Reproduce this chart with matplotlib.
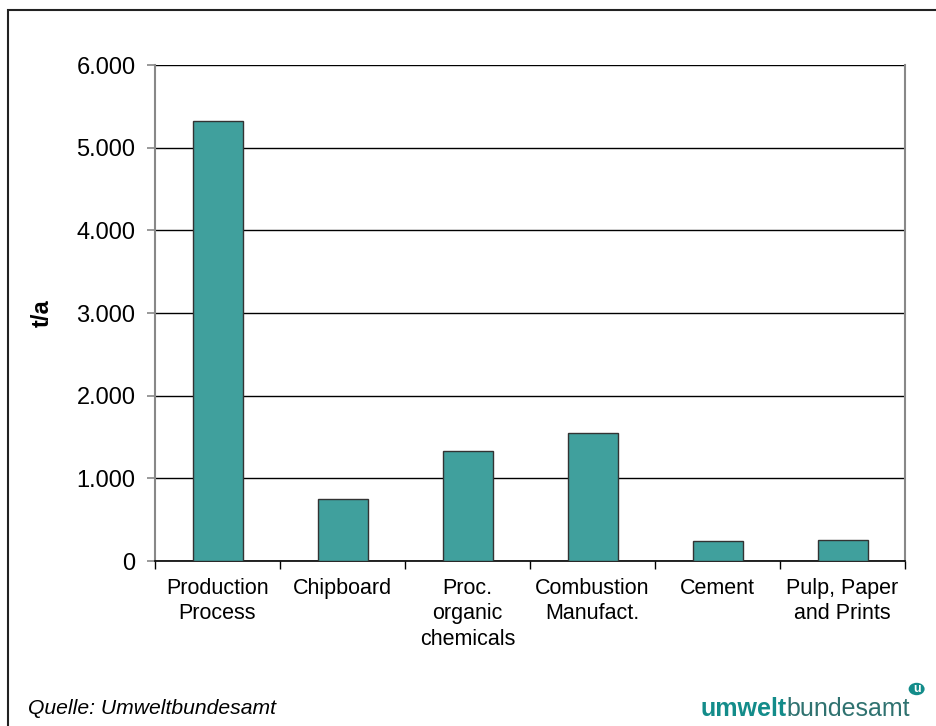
import matplotlib.pyplot as plt
from matplotlib.patches import Rectangle, Circle
from matplotlib.ticker import FuncFormatter

plt.rcParams["font.family"] = ["Liberation Sans", "DejaVu Sans"]

CATEGORIES = [
    "Production\nProcess",
    "Chipboard",
    "Proc.\norganic\nchemicals",
    "Combustion\nManufact.",
    "Cement",
    "Pulp, Paper\nand Prints",
]
EMISSIONS = [5320, 750, 1330, 1545, 240, 255]
Y_TICKS = [0, 1000, 2000, 3000, 4000, 5000, 6000]

BAR_COLOR = "#40a09d"
LOGO_COLOR = "#138c8a"


def thousands(v, _pos):
    return f"{int(v):,}".replace(",", ".")


fig = plt.figure(figsize=(9.36, 7.26), dpi=100)
W, H = 936, 726

# outer frame, open towards the right and bottom edges
fig.patches.append(Rectangle((8 / W, -0.1), 1.2, 1 - 10 / H + 0.1,
                             transform=fig.transFigure, fill=False,
                             edgecolor="#222222", linewidth=1.5))

ax = fig.add_axes([155 / W, 1 - 561 / H, 750 / W, 496 / H])
x = list(range(len(CATEGORIES)))
ax.bar(x, EMISSIONS, width=0.4, color=BAR_COLOR, edgecolor="#333333",
       linewidth=1.0, zorder=3)

ax.set_xlim(-0.5, len(CATEGORIES) - 0.5)
ax.set_ylim(0, 6000)
ax.set_yticks(Y_TICKS)
ax.yaxis.set_major_formatter(FuncFormatter(thousands))
ax.grid(axis="y", color="black", linewidth=1.0, zorder=1)
ax.set_axisbelow(True)

ax.set_xticks(x)
ax.set_xticklabels(CATEGORIES, fontsize=15.5, linespacing=1.3)
ax.set_xticks([i - 0.5 for i in range(len(CATEGORIES) + 1)], minor=True)
ax.tick_params(axis="x", which="major", length=0, pad=12)
ax.tick_params(axis="x", which="minor", length=6, width=1.0, color="black",
               direction="out")
ax.tick_params(axis="y", length=6, width=1.2, color="#888888", labelsize=17,
               pad=8)

for side in ("left", "right"):
    ax.spines[side].set_color("#888888")
    ax.spines[side].set_linewidth(1.5)
ax.spines["top"].set_visible(False)
ax.spines["bottom"].set_color("black")
ax.spines["bottom"].set_linewidth(1.2)

fig.text(42 / W, 1 - 313 / H, "t/a", rotation=90, fontsize=17,
         fontweight="bold", ha="center", va="center")

fig.text(28 / W, 1 - 709 / H, "Quelle: Umweltbundesamt", fontsize=15.2,
         style="italic", ha="left", va="center")

# umweltbundesamt word mark
t1 = fig.text(700 / W, 1 - 709 / H, "umwelt", fontsize=18, fontweight="bold",
              color=LOGO_COLOR, ha="left", va="center")
fig.canvas.draw()
bb = t1.get_window_extent()
t2 = fig.text(bb.x1 / W, 1 - 709 / H, "bundesamt", fontsize=18,
              color="#2f7270", ha="left", va="center")
fig.canvas.draw()
bb2 = t2.get_window_extent()
cx, cy = bb2.x1 + 7, H - 689
fig.patches.append(Circle((cx / W, cy / H), 8 / W, transform=fig.transFigure,
                          facecolor=LOGO_COLOR, edgecolor="none"))
fig.text(cx / W, cy / H, "u", fontsize=9, fontweight="bold", color="white",
         ha="center", va="center")

fig.savefig("out.png", dpi=100)
